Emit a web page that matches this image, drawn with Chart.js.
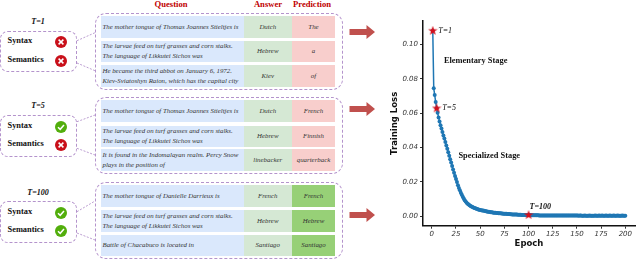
<!DOCTYPE html>
<html lang="en">
<head>
  <meta charset="UTF-8" />
  <title>Training Loss</title>
  <script src="https://cdn.jsdelivr.net/npm/chart.js"></script>
  <style>
    html, body { margin: 0; padding: 0; background: #fff; }
    #page { position: relative; width: 640px; height: 261px; overflow: hidden; }
    #page div { position: absolute; box-sizing: border-box; }
    #lines { position: absolute; left: 0; top: 0; }
    #lossChart { position: absolute; left: 388px; top: 0; }
    .head { font: bold 8.6px "Liberation Serif"; color: #c00000; transform: translateX(-50%); white-space: nowrap; }
    .group { border: 1px dashed #b493cc; border-radius: 11px; }
    .side { border: 1px dashed #b493cc; border-radius: 8px; left: 0; width: 77px; }
    .step { font: italic bold 8px "Liberation Serif"; color: #111; transform: translateX(-50%); white-space: nowrap; }
    .tag { font: bold 8.4px "Liberation Serif"; color: #111; left: 7.5px; white-space: nowrap; }
    .cell { display: flex; align-items: center; font: italic 6.85px/10px "Liberation Serif"; color: #333; white-space: pre; }
    .q { background: #dae8fc; left: 101px; width: 142.5px; padding-left: 1.5px; }
    .a { background: #d5e8d4; left: 243.5px; width: 48.5px; justify-content: center; }
    .p { left: 292px; width: 43px; justify-content: center; }
    .bad { background: #f8cecc; }
    .good { background: #97d077; }
  </style>
</head>
<body>
  <div id="page">
    <svg id="lines" width="640" height="261">
      <g fill="none" stroke="#b493cc" stroke-width="0.9" stroke-dasharray="2 1.5">
        <path d="M77 40.7L95 32.7M77 63L95 70.7" />
        <path d="M77 121.7L95 115M77 148.3L95 155" />
        <path d="M77 211.7L95 201M77 233L95 240" />
      </g>
      <g fill="#c0504d">
        <path d="M349.5 29H366.5V25L375 32L366.5 39V35H349.5Z" />
        <path d="M349.5 106H366.5V102L375 109L366.5 116V112H349.5Z" />
        <path d="M349.5 212H366.5V208L375 215L366.5 222V218H349.5Z" />
      </g>
    </svg>
    <canvas id="lossChart" width="252" height="261"></canvas>
  </div>

  <script>
    // panel contents
    const headers = ['Question', 'Answer', 'Prediction'];
    const steps = ['T=1', 'T=5', 'T=100'];
    const larvae = 'The larvae feed on turf grasses and corn stalks.\nThe language of Likkutei Sichos was';
    const questions = [
      ['The mother tongue of Thomas Joannes Stieltjes is', larvae, 'He became the third abbot on January 6, 1972.\nKiev-Sviatoshyn Raion, which has the capital city'],
      ['The mother tongue of Thomas Joannes Stieltjes is', larvae, 'It is found in the Indomalayan realm. Percy Snow\nplays in the position of'],
      ['The mother tongue of Danielle Darrieux is', larvae, 'Battle of Chacabuco is located in']
    ];
    const answers = [['Dutch', 'Hebrew', 'Kiev'], ['Dutch', 'Hebrew', 'linebacker'], ['French', 'Hebrew', 'Santiago']];
    const predictions = [['The', 'a', 'of'], ['French', 'Finnish', 'quarterback'], ['French', 'Hebrew', 'Santiago']];
    const syntaxOk = [false, true, true];
    const semanticsOk = [false, false, true];

    // chart data
    const xTicks = [0, 25, 50, 75, 100, 125, 150, 175, 200];
    const yTicks = [0, 0.02, 0.04, 0.06, 0.08, 0.10];
    const markedEpochs = [1, 5, 100];
    const markedLoss = [0.108, 0.0628, 0.0006];
    const lossValues = [
      .1080, .0745, .0705, .0665, .0628, .0602, .0575, .0552, .0530, .0510,
      .0490, .0470, .0452, .0432, .0412, .0392, .0372, .0352, .0332, .0312,
      .0292, .0272, .0252, .0234, .0216, .0198, .0180, .0164, .0150, .0136,
      .0124, .0112, .0102, .0092, .0085, .0078, .0072, .0067, .0063, .0059,
      .0056, .0053, .0050, .0047, .0045, .0043, .0041, .0039, .0037, .0036,
      .0034, .0033, .0032, .0031, .0029, .0028, .0027, .0026, .0025, .0024,
      .0023, .0022, .0021, .0020, .0020, .0019, .0018, .0018, .0017, .0016,
      .0016, .0015, .0015, .0014, .0014, .0013, .0013, .0012, .0012, .0012,
      .0011, .0011, .0010, .0010, .0010, .0009, .0009, .0009, .0008, .0008,
      .0008, .0008, .0007, .0007, .0007, .0007, .0006, .0006, .0006, .0006,
      .0006, .0006, .0005, .0005, .0005, .0005, .0005, .0005, .0005, .0005,
      .0004, .0004, .0004, .0004, .0004, .0004, .0004, .0004, .0004, .0004,
      .0004, .0004, .0003, .0003, .0003, .0003, .0003, .0004, .0003, .0003,
      .0003, .0003, .0003, .0003, .0003, .0003, .0003, .0003, .0003, .0003,
      .0003, .0003, .0003, .0003, .0003, .0003, .0003, .0003, .0003, .0003,
      .0003, .0002, .0003, .0003, .0002, .0002, .0002, .0003, .0002, .0002,
      .0002, .0002, .0003, .0002, .0002, .0002, .0002, .0002, .0003, .0002,
      .0002, .0002, .0003, .0002, .0002, .0003, .0002, .0002, .0002, .0003,
      .0002, .0002, .0002, .0003, .0002, .0002, .0002, .0003, .0002, .0002,
      .0002, .0003, .0002, .0002, .0002, .0002, .0003, .0002, .0002, .0002
    ];
    const epochs = lossValues.map((v, i) => i + 1);

    // layout of the left panel, in pixels
    const headerX = [171, 268, 312];
    const groupBoxes = [[13, 77], [97.3, 77], [181.7, 77.6]];
    const sideBoxes = [[30.7, 41.6], [115, 41.7], [201, 42.3]];
    const stepY = [17, 101, 187.5];
    const tagY = [[36, 55], [120.5, 139], [207, 225]];
    const rowBoxes = [
      [[16, 21.5], [40.7, 21.6], [65, 21.7]],
      [[100.3, 21.4], [125.7, 21], [149.3, 21.7]],
      [[185, 22.3], [210, 21.7], [234.7, 21.3]]
    ];

    function box(cls, top, height, text) {
      const d = document.createElement('div');
      d.className = cls;
      d.style.top = top + 'px';
      if (height) d.style.height = height + 'px';
      if (text) d.textContent = text;
      document.getElementById('page').appendChild(d);
      return d;
    }

    function icon(ok, cy) {
      const d = box('', cy - 6, 12);
      d.style.left = '55.3px';
      d.style.width = '12px';
      const mark = ok ? 'M3 6.2L5.2 8.3L9 4' : 'M3.6 3.6L8.4 8.4M8.4 3.6L3.6 8.4';
      d.innerHTML = '<svg width="12" height="12" style="display:block"><circle cx="6" cy="6" r="6" fill="' +
        (ok ? '#52ae0c' : '#c9101a') + '"/><path d="' + mark + '" fill="none" stroke="#fff" stroke-width="1.5"/></svg>';
    }

    headers.forEach((h, i) => {
      box('head', -1, 0, h).style.left = headerX[i] + 'px';
    });

    steps.forEach((t, g) => {
      const gb = box('group', groupBoxes[g][0], groupBoxes[g][1]);
      gb.style.left = '95px';
      gb.style.width = '248px';
      box('side', sideBoxes[g][0], sideBoxes[g][1]);
      box('step', stepY[g], 0, t).style.left = '38px';
      box('tag', tagY[g][0], 0, 'Syntax');
      box('tag', tagY[g][1], 0, 'Semantics');
      icon(syntaxOk[g], tagY[g][0] + 6);
      icon(semanticsOk[g], tagY[g][1] + 6);
      rowBoxes[g].forEach((r, i) => {
        box('cell q', r[0], r[1], questions[g][i]);
        box('cell a', r[0], r[1], answers[g][i]);
        box('cell p ' + (g === 2 ? 'good' : 'bad'), r[0], r[1], predictions[g][i]);
      });
    });

    // filled red star for the marked epochs
    const star = document.createElement('canvas');
    star.width = star.height = 10;
    const sc = star.getContext('2d');
    sc.fillStyle = '#d4101c';
    sc.beginPath();
    for (let i = 0; i < 10; i++) {
      const r = i % 2 ? 2 : 5;
      const a = -Math.PI / 2 + i * Math.PI / 5;
      sc.lineTo(5 + r * Math.cos(a), 5 + r * Math.sin(a));
    }
    sc.closePath();
    sc.fill();

    const notes = {
      id: 'notes',
      afterDatasetsDraw(chart) {
        const ctx = chart.ctx;
        const x = chart.scales.x, y = chart.scales.y;
        ctx.save();
        ctx.fillStyle = '#111';
        ctx.textBaseline = 'middle';
        ctx.font = 'italic 8px "Liberation Serif"';
        ctx.fillText('T=1', x.getPixelForValue(1) + 5.5, y.getPixelForValue(0.108));
        ctx.fillText('T=5', x.getPixelForValue(5) + 5.5, y.getPixelForValue(0.0628));
        ctx.font = 'italic bold 8px "Liberation Serif"';
        ctx.fillText('T=100', x.getPixelForValue(101), y.getPixelForValue(0.0052));
        ctx.font = 'bold 8.4px "Liberation Serif"';
        ctx.fillText('Elementary Stage', x.getPixelForValue(12.5), y.getPixelForValue(0.0905));
        ctx.fillText('Specialized Stage', x.getPixelForValue(27.5), y.getPixelForValue(0.0350));
        ctx.restore();
      }
    };

    const tickFont = { family: 'DejaVu Sans', size: 7, style: 'italic' };
    const titleFont = { family: 'DejaVu Sans', size: 8.5, weight: 'bold' };

    new Chart(document.getElementById('lossChart').getContext('2d'), {
      type: 'scatter',
      data: {
        datasets: [
          {
            label: 'Marked',
            data: markedEpochs.map((e, i) => ({ x: e, y: markedLoss[i] })),
            pointStyle: star,
            showLine: false,
            order: 0
          },
          {
            label: 'Training Loss',
            data: epochs.map((e, i) => ({ x: e, y: lossValues[i] })),
            showLine: true,
            borderColor: '#1f77b4',
            borderWidth: 1.5,
            backgroundColor: '#1f77b4',
            pointRadius: 2,
            pointBorderWidth: 0,
            order: 1
          }
        ]
      },
      options: {
        responsive: false,
        animation: false,
        layout: { padding: { top: 21, left: 0, right: 0, bottom: 0 } },
        plugins: { legend: { display: false }, tooltip: { enabled: false } },
        scales: {
          x: {
            type: 'linear',
            min: -9.1,
            max: 210,
            afterBuildTicks: s => { s.ticks = xTicks.map(v => ({ value: v })); },
            afterFit: s => { s.height = 35.3; },
            border: { display: true, color: '#111', width: 1.5 },
            grid: { drawOnChartArea: false, tickLength: 3, tickColor: '#333' },
            ticks: { font: tickFont, color: '#333', padding: 1, maxRotation: 0 },
            title: { display: true, text: 'Epoch', font: titleFont, color: '#111', padding: { top: 0, bottom: 12 } }
          },
          y: {
            min: -0.0056,
            max: 0.1137,
            afterBuildTicks: s => { s.ticks = yTicks.map(v => ({ value: v })); },
            afterFit: s => { s.width = 35; },
            border: { display: true, color: '#111', width: 1.5 },
            grid: { drawOnChartArea: false, tickLength: 3, tickColor: '#333' },
            ticks: { font: tickFont, color: '#333', padding: 2, callback: v => v.toFixed(2) },
            title: { display: true, text: 'Training Loss', font: titleFont, color: '#111', padding: { top: 2, bottom: 0 } }
          }
        }
      },
      plugins: [notes]
    });
  </script>
</body>
</html>
